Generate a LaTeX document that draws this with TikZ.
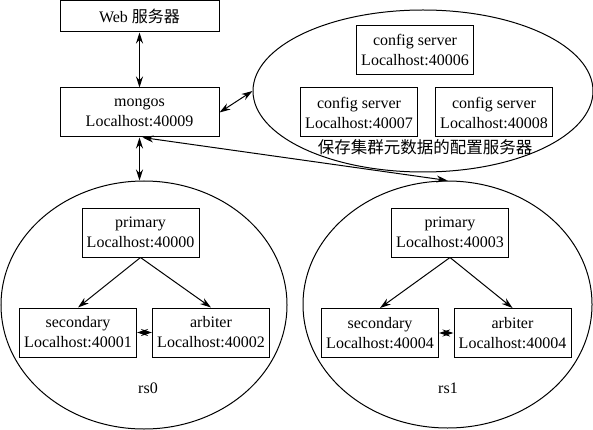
\documentclass[tikz,border=0pt]{standalone}
\usepackage{fontspec}
\setmainfont{Liberation Serif}
\newfontfamily\cjk{Noto Sans CJK SC}
\usetikzlibrary{shapes.geometric,arrows.meta}
\begin{document}
\begin{tikzpicture}[x=1pt,y=-1pt,
 box/.style={draw,line width=1pt,minimum height=49pt,align=center,inner sep=1pt,font=\fontsize{16}{20}\selectfont},
 bw/.style={minimum width=117pt},
 grp/.style={draw,ellipse,line width=1pt,inner sep=0pt},
 lbl/.style={inner sep=0pt,font=\fontsize{16}{20}\selectfont},
 arr/.style={line width=1pt,{Stealth[length=11pt,width=7pt]}-{Stealth[length=11pt,width=7pt]}},
 one/.style={line width=1pt,-{Stealth[length=11pt,width=7pt]}}]
\useasboundingbox (0,0) rectangle (593,430);
% group ellipses
\node[grp,minimum width=340pt,minimum height=162pt] (cfg) at (423,91) {};
\node[grp,minimum width=286pt,minimum height=248pt] (rs0) at (144,305) {};
\node[grp,minimum width=289pt,minimum height=247pt] (rs1) at (447.5,304.5) {};
% top nodes
\node[box,minimum width=159pt,minimum height=31pt] (web) at (139.5,16.5) {Web {\cjk\fontsize{16}{19}\selectfont 服务器}};
\node[box,minimum width=159pt] (mongos) at (139.5,112.5) {mongos\\Localhost:40009};
% config servers
\node[box,bw] (c6) at (415,50) {config server\\Localhost:40006};
\node[box,bw] (c7) at (359,112.5) {config server\\Localhost:40007};
\node[box,bw] (c8) at (494,112.5) {config server\\Localhost:40008};
\node[lbl,font=\cjk\fontsize{16.5}{19}\selectfont] (cfglbl) at (425,147) {保存集群元数据的配置服务器};
% rs0
\node[box,bw] (p0) at (140.5,232.5) {primary\\Localhost:40000};
\node[box,bw] (s0) at (78,332.5) {secondary\\Localhost:40001};
\node[box,bw] (a0) at (211,332.5) {arbiter\\Localhost:40002};
\node[lbl] (rs0lbl) at (148,388) {rs0};
% rs1
\node[box,bw] (p1) at (450,232.5) {primary\\Localhost:40003};
\node[box,bw] (s1) at (380,333) {secondary\\Localhost:40004};
\node[box,bw] (a1) at (512.5,333) {arbiter\\Localhost:40004};
\node[lbl] (rs1lbl) at (448,388) {rs1};
% connectors
\draw[arr] (web.south) -- (mongos.north);
\draw[arr] (mongos.east) -- (cfg.west);
\draw[arr] (mongos.south) -- (mongos.south |- rs0.north);
\draw[arr] ([xshift=3pt]mongos.south) -- (rs1.north);
\draw[one] (p0.south) -- (s0.north);
\draw[one] (p0.south) -- (a0.north);
\draw[arr] (s0.east) -- (a0.west);
\draw[one] (p1.south) -- (s1.north);
\draw[one] (p1.south) -- (a1.north);
\draw[arr] (s1.east) -- (a1.west);
\end{tikzpicture}
\end{document}
